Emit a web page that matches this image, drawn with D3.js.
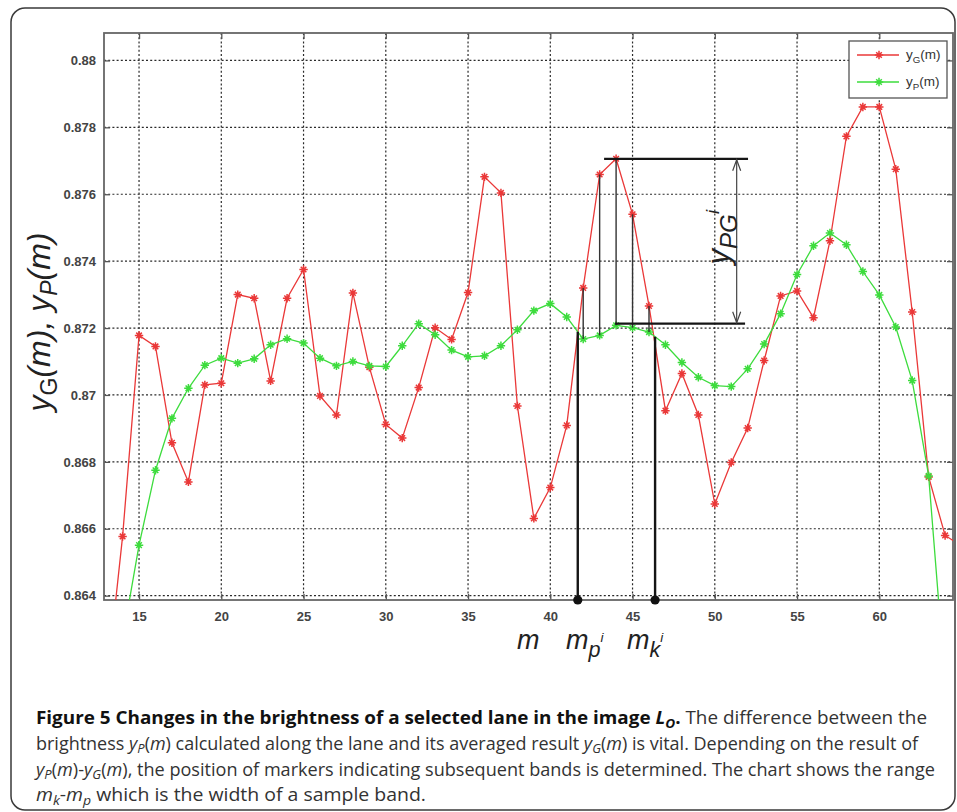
<!DOCTYPE html>
<html>
<head>
<meta charset="utf-8">
<script src="https://cdn.jsdelivr.net/npm/d3@7"></script>
<style>
  body { margin: 0; background: #fff; }
  svg { display: block; }
</style>
</head>
<body>
<svg width="957" height="812"></svg>
<script>
// values
var mG = [13, 14, 15, 16, 17, 18, 19, 20, 21, 22, 23, 24, 25, 26, 27, 28, 29, 30, 31, 32, 33, 34, 35, 36, 37, 38, 39,
          40, 41, 42, 43, 44, 45, 46, 47, 48, 49, 50, 51, 52, 53, 54, 55, 56, 57, 58, 59, 60, 61, 62, 63, 64, 65];
var yG = [0.8612, 0.86577, 0.87178, 0.87145, 0.86857, 0.8674, 0.8703, 0.87035, 0.8730, 0.87289, 0.87042, 0.87289,
          0.87375, 0.86997, 0.8694, 0.87305, 0.87083, 0.86912, 0.86871, 0.87022, 0.87201, 0.87166, 0.87306, 0.87652,
          0.87604, 0.86967, 0.86631, 0.86723, 0.86909, 0.8732, 0.87659, 0.87706, 0.8754, 0.87266, 0.86953, 0.87064,
          0.8694, 0.86674, 0.86798, 0.86901, 0.87103, 0.87296, 0.87311, 0.87231, 0.87461, 0.87773, 0.87861, 0.87861,
          0.87675, 0.87248, 0.86755, 0.8658, 0.86549];

var mP = [14, 15, 16, 17, 18, 19, 20, 21, 22, 23, 24, 25, 26, 27, 28, 29, 30, 31, 32, 33, 34, 35, 36, 37, 38, 39,
          40, 41, 42, 43, 44, 45, 46, 47, 48, 49, 50, 51, 52, 53, 54, 55, 56, 57, 58, 59, 60, 61, 62, 63, 64];
var yP = [0.8627, 0.86551, 0.86775, 0.8693, 0.8702, 0.87089, 0.8711, 0.87095, 0.87108, 0.8715, 0.87168, 0.87155,
          0.8711, 0.87087, 0.871, 0.87087, 0.87085, 0.87147, 0.87213, 0.8718, 0.87134, 0.87114, 0.87117, 0.87147,
          0.87195, 0.87252, 0.87273, 0.87233, 0.87167, 0.87178, 0.87208, 0.87201, 0.87188, 0.8715, 0.87097, 0.87053,
          0.87028, 0.87025, 0.87078, 0.87152, 0.87243, 0.8736, 0.87446, 0.87484, 0.87449, 0.87369, 0.87299, 0.87203,
          0.87043, 0.86758, 0.8614];

var xTicks = [15, 20, 25, 30, 35, 40, 45, 50, 55, 60];
var yTicks = [0.864, 0.866, 0.868, 0.87, 0.872, 0.874, 0.876, 0.878, 0.88];
var yTickLabels = ["0.864", "0.866", "0.868", "0.87", "0.872", "0.874", "0.876", "0.878", "0.88"];

// band annotation
var bandM = [42, 43, 44, 45, 46];   // red-to-green connectors
var mpPos = 41.67, mkPos = 46.37;   // band limits
var peakLevel = 0.87706, baseLevel = 0.87213;

var svg = d3.select("svg"),
    margin = {top: 33, right: 4, bottom: 212, left: 104},
    width = 957 - margin.left - margin.right,
    height = 812 - margin.top - margin.bottom,
    g = svg.append("g").attr("transform", "translate(" + margin.left + "," + margin.top + ")");

var font = "'Liberation Sans', Arial, sans-serif";

// outer frame of the figure
svg.insert("rect", ":first-child")
    .attr("x", 11).attr("y", 8)
    .attr("width", 944).attr("height", 802)
    .attr("rx", 14)
    .attr("fill", "none")
    .attr("stroke", "#3a3a3a")
    .attr("stroke-width", 1.5);

var x = d3.scaleLinear().domain([12.87, 64.48]).range([0, width]);
var y = d3.scaleLinear().domain([0.86387, 0.88082]).range([height, 0]);

g.append("rect").attr("width", width).attr("height", height).attr("fill", "#fff");

// dotted grid
g.append("g").selectAll("line").data(xTicks).enter().append("line")
    .attr("x1", x).attr("x2", x).attr("y1", 0).attr("y2", height)
    .attr("stroke", "#2a2a2a").attr("stroke-width", 1.2).attr("stroke-dasharray", "2,2.2");
g.append("g").selectAll("line").data(yTicks).enter().append("line")
    .attr("y1", y).attr("y2", y).attr("x1", 0).attr("x2", width)
    .attr("stroke", "#2a2a2a").attr("stroke-width", 1.2).attr("stroke-dasharray", "2,2.2");

// axes: inward ticks on all four sides
var axB = g.append("g").attr("transform", "translate(0," + height + ")")
    .call(d3.axisBottom(x).tickValues(xTicks).tickSizeInner(-6).tickSizeOuter(0).tickPadding(12));
var axT = g.append("g")
    .call(d3.axisTop(x).tickValues(xTicks).tickSizeInner(-6).tickSizeOuter(0).tickFormat(""));
var axL = g.append("g")
    .call(d3.axisLeft(y).tickValues(yTicks).tickSizeInner(-6).tickSizeOuter(0).tickPadding(8)
      .tickFormat(function (d, i) { return yTickLabels[i]; }));
var axR = g.append("g").attr("transform", "translate(" + width + ",0)")
    .call(d3.axisRight(y).tickValues(yTicks).tickSizeInner(-6).tickSizeOuter(0).tickFormat(""));

[axB, axT, axL, axR].forEach(function (a) {
  a.select(".domain").remove();
  a.selectAll(".tick line").attr("stroke", "#555").attr("stroke-width", 1.3);
  a.selectAll("text").attr("font-family", font).attr("font-size", 13)
    .attr("font-weight", "bold").attr("fill", "#444");
});

g.append("rect").attr("width", width).attr("height", height)
    .attr("fill", "none").attr("stroke", "#666").attr("stroke-width", 1.8);

// data
g.append("clipPath").attr("id", "clip").append("rect").attr("width", width).attr("height", height);
var plot = g.append("g").attr("clip-path", "url(#clip)");

var red = "#ea3838", green = "#3ddc3d";
var star = "M-4.2,0H4.2M0,-4.2V4.2M-2.8,-2.8L2.8,2.8M-2.8,2.8L2.8,-2.8";

function series(ms, vals, color) {
  var pts = ms.map(function (m, i) { return [m, vals[i]]; });
  plot.append("path")
      .datum(pts)
      .attr("fill", "none")
      .attr("stroke", color)
      .attr("stroke-width", 1.3)
      .attr("d", d3.line().x(function (d) { return x(d[0]); }).y(function (d) { return y(d[1]); }));
  plot.selectAll(null).data(pts).enter().append("path")
      .attr("transform", function (d) { return "translate(" + x(d[0]) + "," + y(d[1]) + ")"; })
      .attr("d", star)
      .attr("stroke", color)
      .attr("stroke-width", 1.5)
      .attr("fill", "none");
}
series(mG, yG, red);
series(mP, yP, green);

// band annotation
function valAt(ms, vals, m) {
  var i = d3.bisectRight(ms, m) - 1;
  var t = (m - ms[i]) / (ms[i + 1] - ms[i]);
  return vals[i] + t * (vals[i + 1] - vals[i]);
}
var ann = g.append("g").attr("stroke", "#151515").attr("fill", "none");

bandM.forEach(function (m) {
  ann.append("line")
      .attr("x1", x(m)).attr("x2", x(m))
      .attr("y1", y(valAt(mG, yG, m))).attr("y2", y(valAt(mP, yP, m)))
      .attr("stroke-width", 1.4).attr("stroke", "#333");
});
[mpPos, mkPos].forEach(function (m) {
  ann.append("line")
      .attr("x1", x(m)).attr("x2", x(m))
      .attr("y1", height).attr("y2", y(valAt(mP, yP, m)))
      .attr("stroke-width", 2.4);
  g.append("circle").attr("cx", x(m)).attr("cy", height).attr("r", 4.6).attr("fill", "#111");
});

ann.append("line").attr("x1", x(43.27)).attr("x2", x(52.02))
    .attr("y1", y(peakLevel)).attr("y2", y(peakLevel)).attr("stroke-width", 2.2);
ann.append("line").attr("x1", x(43.94)).attr("x2", x(51.84))
    .attr("y1", y(baseLevel)).attr("y2", y(baseLevel)).attr("stroke-width", 2.2);

var ax = x(51.33), yTop = y(peakLevel), yBot = y(baseLevel);
ann.append("line").attr("x1", ax).attr("x2", ax).attr("y1", yTop + 1).attr("y2", yBot - 1)
    .attr("stroke-width", 1.2).attr("stroke", "#444");
ann.append("path").attr("d", "M" + (ax - 4) + "," + (yTop + 12) + "L" + ax + "," + (yTop + 1) + "L" + (ax + 4) + "," + (yTop + 12))
    .attr("stroke-width", 1.2).attr("stroke", "#444");
ann.append("path").attr("d", "M" + (ax - 4) + "," + (yBot - 12) + "L" + ax + "," + (yBot - 1) + "L" + (ax + 4) + "," + (yBot - 12))
    .attr("stroke-width", 1.2).attr("stroke", "#444");

// rich text helper: parts of {t, sub, sup, it, b, sz}
function rich(sel, parts, size, subShift) {
  var shift = 0;
  parts.forEach(function (p) {
    var target = p.sub ? size * (subShift || 0.28) : p.sup ? -size * (p.up || 0.42) : 0;
    var ts = sel.append("tspan").attr("dy", target - shift).text(p.t);
    shift = target;
    if (p.sub || p.sup) ts.attr("font-size", size * (p.sz || 0.72));
    if (p.it) ts.attr("font-style", "italic");
    if (p.b) ts.attr("font-weight", "bold").attr("fill", "#111");
  });
  return sel;
}

rich(g.append("text")
    .attr("transform", "translate(" + (x(51.33) - 8) + "," + ((yTop + yBot) / 2 - 4) + ") rotate(-90)")
    .attr("text-anchor", "middle")
    .attr("font-family", font).attr("font-size", 31).attr("fill", "#222"),
  [{t: "y", it: true}, {t: "PG", sub: true, it: true, sz: 0.78}, {t: "i", sup: true, it: true, sz: 0.6, up: 0.3}], 31);

// legend
var lg = g.append("g").attr("transform", "translate(" + (849 - margin.left) + "," + (41 - margin.top) + ")");
lg.append("rect").attr("width", 98).attr("height", 57).attr("fill", "#fff")
    .attr("stroke", "#555").attr("stroke-width", 1.3);
[{c: red, s: "G", yy: 14}, {c: green, s: "P", yy: 41}].forEach(function (e) {
  lg.append("line").attr("x1", 8).attr("x2", 50).attr("y1", e.yy).attr("y2", e.yy)
      .attr("stroke", e.c).attr("stroke-width", 1.3);
  lg.append("path").attr("transform", "translate(30," + e.yy + ")").attr("d", star)
      .attr("stroke", e.c).attr("stroke-width", 1.5);
  rich(lg.append("text").attr("x", 57).attr("y", e.yy + 4)
      .attr("font-family", font).attr("font-size", 13.5).attr("fill", "#333"),
    [{t: "y"}, {t: e.s, sub: true}, {t: "(m)"}], 13.5);
});

// axis titles
rich(svg.append("text")
    .attr("transform", "translate(50,322) rotate(-90)")
    .attr("text-anchor", "middle")
    .attr("font-family", font).attr("font-size", 32).attr("fill", "#222"),
  [{t: "y", it: true}, {t: "G", sub: true}, {t: "(m), ", it: true}, {t: "y", it: true},
   {t: "P", sub: true, it: true}, {t: "(m)", it: true}], 32, 0.22);

var labelStyle = function (t) {
  return t.attr("font-family", font).attr("font-size", 27).attr("font-style", "italic").attr("fill", "#222");
};
labelStyle(svg.append("text").attr("x", 517).attr("y", 649)).text("m");
rich(labelStyle(svg.append("text").attr("x", 566).attr("y", 649)),
  [{t: "m"}, {t: "p", sub: true, sz: 0.8}, {t: "i", sup: true, sz: 0.5, up: 0.25}], 27);
rich(labelStyle(svg.append("text").attr("x", 627).attr("y", 649)),
  [{t: "m"}, {t: "k", sub: true, sz: 0.8}, {t: "i", sup: true, sz: 0.5, up: 0.25}], 27);

// caption
var capFont = "'Open Sans', 'Noto Sans', sans-serif";
var capWidths = [891, 882, 899, 390];
var capLines = [
  [{t: "Figure 5 Changes in the brightness of a selected lane in the image ", b: true},
   {t: "L", b: true, it: true}, {t: "O", b: true, it: true, sub: true}, {t: ".", b: true},
   {t: " The difference between the"}],
  [{t: "brightness "}, {t: "y", it: true}, {t: "P", it: true, sub: true}, {t: "("}, {t: "m", it: true},
   {t: ") calculated along the lane and its averaged result "}, {t: "y", it: true}, {t: "G", it: true, sub: true},
   {t: "("}, {t: "m", it: true}, {t: ") is vital. Depending on the result of"}],
  [{t: "y", it: true}, {t: "P", it: true, sub: true}, {t: "("}, {t: "m", it: true}, {t: ")-"},
   {t: "y", it: true}, {t: "G", it: true, sub: true}, {t: "("}, {t: "m", it: true},
   {t: "), the position of markers indicating subsequent bands is determined. The chart shows the range"}],
  [{t: "m", it: true}, {t: "k", it: true, sub: true}, {t: "-"}, {t: "m", it: true}, {t: "p", it: true, sub: true},
   {t: " which is the width of a sample band."}]
];
capLines.forEach(function (parts, i) {
  rich(svg.append("text").attr("x", 36).attr("y", 724 + i * 25.8)
      .attr("font-family", capFont).attr("font-size", 18).attr("fill", "#333")
      .attr("textLength", capWidths[i]).attr("lengthAdjust", "spacingAndGlyphs"),
    parts, 18, 0.2);
});
</script>
</body>
</html>
